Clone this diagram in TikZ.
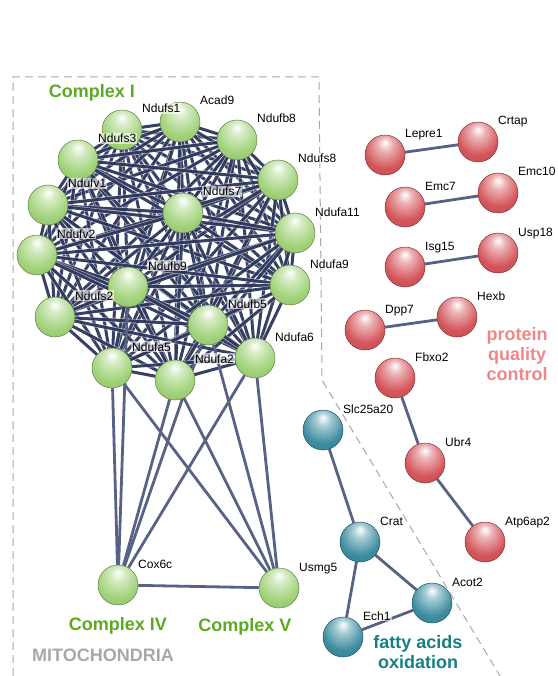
\documentclass[tikz,border=0pt]{standalone}
\usepackage{fontspec}
\setmainfont{Liberation Sans}
\usepackage{xcolor}
\usepackage{tikz}
\usetikzlibrary{calc}
\usetikzlibrary{backgrounds}

\definecolor{cigreen}{RGB}{92,170,32}
\definecolor{ballgreen}{RGB}{160,210,120}
\definecolor{ballred}{RGB}{212,85,90}
\definecolor{ballteal}{RGB}{60,140,160}
\definecolor{edgenavy}{RGB}{34,44,84}
\definecolor{edgeslate}{RGB}{88,98,132}
\definecolor{pqcpink}{RGB}{240,135,135}
\definecolor{faoteal}{RGB}{22,128,128}
\definecolor{mitogray}{RGB}{168,168,168}

%% sphere shadings, highlight on top
\pgfdeclareradialshading{gsphere}{\pgfpoint{0bp}{16bp}}{color(0bp)=(white); color(9bp)=(ballgreen!45!white); color(26bp)=(ballgreen); color(46bp)=(ballgreen!88!black); color(62bp)=(ballgreen!55!black)}
\pgfdeclareradialshading{rsphere}{\pgfpoint{0bp}{16bp}}{color(0bp)=(white); color(9bp)=(ballred!45!white); color(26bp)=(ballred); color(46bp)=(ballred!88!black); color(62bp)=(ballred!55!black)}
\pgfdeclareradialshading{tsphere}{\pgfpoint{0bp}{16bp}}{color(0bp)=(white); color(9bp)=(ballteal!45!white); color(26bp)=(ballteal); color(46bp)=(ballteal!88!black); color(62bp)=(ballteal!55!black)}

\begin{document}
\begin{tikzpicture}[x=1pt,y=-1pt,
  ball/.style={circle,minimum size=40pt,inner sep=0pt},
  gball/.style={ball,shading=gsphere,draw=ballgreen!60!black,line width=0.5pt},
  rball/.style={ball,shading=rsphere,draw=ballred!60!black,line width=0.5pt},
  tball/.style={ball,shading=tsphere,draw=ballteal!60!black,line width=0.5pt},
  lbl/.style={anchor=base west,font=\fontsize{12}{14}\selectfont,fill=white,fill opacity=0.6,text opacity=1,inner sep=1pt},
  cedge/.style={edgenavy,line width=3pt,opacity=0.9,preaction={draw=white,line width=4.4pt,opacity=0.55}},
  sedge/.style={edgeslate,line width=2.8pt},
  title/.style={font=\fontsize{18}{20}\selectfont\bfseries}]
\useasboundingbox (0,0) rectangle (557,676);
%% mitochondria frame
\draw[mitogray,line width=1pt,dash pattern=on 8pt off 5pt] (13,676) -- (13,77) -- (319,77) -- (322,380) -- (500,676);
%% complex I
\foreach \n/\x/\y/\t in {ndufs1/122/130/Ndufs1, acad9/180/122/Acad9, ndufb8/237/140/Ndufb8,
    ndufs3/78/160/Ndufs3, ndufs8/278/180/Ndufs8, ndufv1/48/205/Ndufv1, ndufs7/183/213/Ndufs7,
    ndufa11/295/233/Ndufa11, ndufv2/37/255/Ndufv2, ndufa9/290/285/Ndufa9, ndufb9/128/287/Ndufb9,
    ndufs2/55/317/Ndufs2, ndufb5/208/325/Ndufb5, ndufa6/255/358/Ndufa6, ndufa5/112/368/Ndufa5,
    ndufa2/175/380/Ndufa2}
  \node[gball] (\n) at (\x,\y) {};
\def\cIlist{ndufs1,acad9,ndufb8,ndufs3,ndufs8,ndufv1,ndufs7,ndufa11,ndufv2,ndufa9,ndufb9,ndufs2,ndufb5,ndufa6,ndufa5,ndufa2}
%% other proteins
\node[gball] (cox6c) at (118,585) {};
\node[gball] (usmg5) at (279,588) {};
\foreach \n/\x/\y in {lepre1/385/155, crtap/478/142, emc7/405/207, emc10/498/193, isg15/405/267,
    usp18/498/253, dpp7/365/330, hexb/457/317, fbxo2/395/378, ubr4/425/463, atp6ap2/485/542}
  \node[rball] (\n) at (\x,\y) {};
\foreach \n/\x/\y in {slc25a20/323/430, crat/360/542, acot2/432/603, ech1/343/637}
  \node[tball] (\n) at (\x,\y) {};
%% edges
\begin{pgfonlayer}{background}
\foreach \a [count=\i] in \cIlist
  \foreach \b [count=\j] in \cIlist
    {\ifnum\j>\i \draw[cedge] (\a.center) -- (\b.center); \fi}
\foreach \a in {ndufa5,ndufb9,ndufa2,ndufb5,ndufa6}
  \draw[sedge] (\a) -- (cox6c);
\foreach \a in {ndufa5,ndufa2,ndufb5,ndufa6}
  \draw[sedge] (\a) -- (usmg5);
\draw[sedge] (cox6c) -- (usmg5);
\foreach \a/\b in {lepre1/crtap, emc7/emc10, isg15/usp18, dpp7/hexb, fbxo2/ubr4, ubr4/atp6ap2,
    slc25a20/crat, crat/acot2, crat/ech1, ech1/acot2}
  \draw[sedge] (\a) -- (\b);
\end{pgfonlayer}
%% labels
\foreach \n/\t in {ndufs1/Ndufs1, acad9/Acad9, ndufb8/Ndufb8, ndufs3/Ndufs3, ndufs8/Ndufs8,
    ndufv1/Ndufv1, ndufs7/Ndufs7, ndufa11/Ndufa11, ndufv2/Ndufv2, ndufa9/Ndufa9, ndufb9/Ndufb9,
    ndufs2/Ndufs2, ndufb5/Ndufb5, ndufa6/Ndufa6, ndufa5/Ndufa5, ndufa2/Ndufa2, cox6c/Cox6c,
    usmg5/Usmg5, lepre1/Lepre1, crtap/Crtap, emc7/Emc7, emc10/Emc10, isg15/Isg15, usp18/Usp18,
    dpp7/Dpp7, hexb/Hexb, fbxo2/Fbxo2, ubr4/Ubr4, atp6ap2/Atp6ap2, slc25a20/Slc25a20,
    crat/Crat, acot2/Acot2, ech1/Ech1}
  \node[lbl] (\n-t) at ($(\n)+(19,-17)$) {\t};
%% group titles
\node[title,cigreen] (cI) at (92,93) {Complex I};
\node[title,cigreen] (cIV) at (118,626) {Complex IV};
\node[title,cigreen] (cV) at (245,627) {Complex V};
\node[title,mitogray] (mito) at (103,655) {MITOCHONDRIA};
\node[title,pqcpink,align=center] (pqc) at (517,354) {protein\\quality\\control};
\node[title,faoteal,align=center] (fao) at (418,652) {fatty acids\\oxidation};
\end{tikzpicture}
\end{document}
